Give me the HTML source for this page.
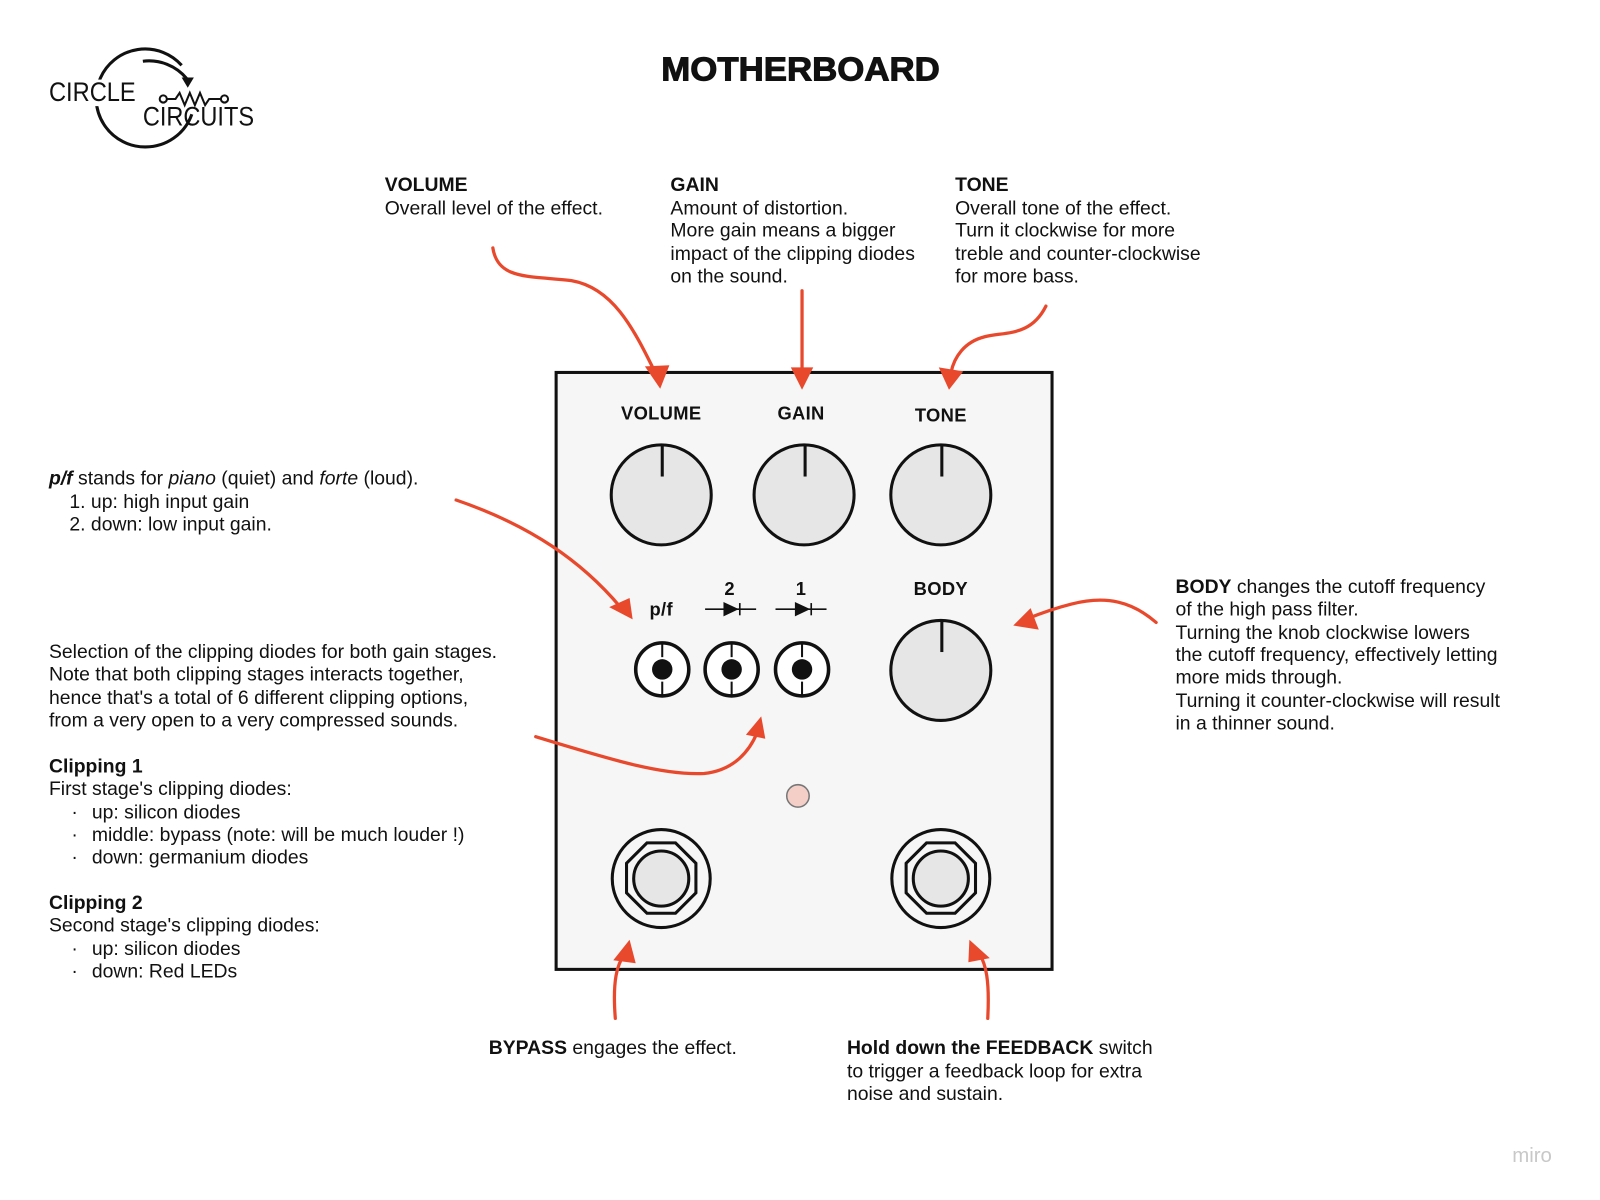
<!DOCTYPE html>
<html><head><meta charset="utf-8"><style>
html,body{margin:0;padding:0;background:#fff;}
svg{display:block;}
text{font-family:"Liberation Sans",Arial,sans-serif;font-size:19px;fill:#111;}
.b{font-weight:bold;}
.lab{font-weight:bold;font-size:18px;text-anchor:middle;letter-spacing:0.3px;}
.ar{fill:none;stroke:#e8492c;stroke-width:3.2;stroke-linecap:round;}
.ah{fill:#e8492c;}
</style></head><body>
<svg width="1600" height="1200" viewBox="0 0 1568 1176" xmlns="http://www.w3.org/2000/svg">
<rect width="1568" height="1176" fill="#fff"/>
<!-- logo -->
<path d="M178 64 A48 48 0 1 0 142 144 A48 48 0 0 0 188 112" fill="none" stroke="#111" stroke-width="3"/>
<path d="M140 60 A48 48 0 0 1 183 77" fill="none" stroke="#111" stroke-width="3"/>
<polygon points="178,76 190,76 184,86" fill="#111"/>
<rect x="46" y="78" width="90" height="26" fill="#fff"/>
<circle cx="160" cy="97" r="3.5" fill="#fff" stroke="#111" stroke-width="2"/>
<circle cx="220" cy="97" r="3.5" fill="#fff" stroke="#111" stroke-width="2"/>
<polyline points="164,97 172,97 176,91 181,103 186,91 191,103 196,91 201,103 205,97 216,97" fill="none" stroke="#111" stroke-width="2"/>
<text x="48" y="99" textLength="85" lengthAdjust="spacingAndGlyphs" style="font-size:26px">CIRCLE</text>
<text x="140" y="123" textLength="109" lengthAdjust="spacingAndGlyphs" style="font-size:26px">CIRCUITS</text>
<text x="648" y="79" class="b" textLength="273" lengthAdjust="spacingAndGlyphs" style="font-size:33px;font-weight:900;stroke:#111;stroke-width:1">MOTHERBOARD</text>

<!-- top texts -->
<text x="377" y="187" class="b">VOLUME</text>
<text x="377" y="210">Overall level of the effect.</text>
<text x="657" y="187" class="b">GAIN</text>
<text x="657" y="210">Amount of distortion.</text>
<text x="657" y="232">More gain means a bigger</text>
<text x="657" y="255">impact of the clipping diodes</text>
<text x="657" y="277">on the sound.</text>
<text x="936" y="187" class="b">TONE</text>
<text x="936" y="210">Overall tone of the effect.</text>
<text x="936" y="232">Turn it clockwise for more</text>
<text x="936" y="255">treble and counter-clockwise</text>
<text x="936" y="277">for more bass.</text>

<!-- left texts -->
<text x="48" y="475"><tspan class="b" font-style="italic">p/f</tspan> stands for <tspan font-style="italic">piano</tspan> (quiet) and <tspan font-style="italic">forte</tspan> (loud).</text>
<text x="68" y="498">1. up: high input gain</text>
<text x="68" y="520">2. down: low input gain.</text>
<text x="48" y="645">Selection of the clipping diodes for both gain stages.</text>
<text x="48" y="667">Note that both clipping stages interacts together,</text>
<text x="48" y="690">hence that's a total of 6 different clipping options,</text>
<text x="48" y="712">from a very open to a very compressed sounds.</text>
<text x="48" y="757" class="b">Clipping 1</text>
<text x="48" y="779">First stage's clipping diodes:</text>
<text x="70" y="802">·</text><text x="90" y="802">up: silicon diodes</text>
<text x="70" y="824">·</text><text x="90" y="824">middle: bypass (note: will be much louder !)</text>
<text x="70" y="846">·</text><text x="90" y="846">down: germanium diodes</text>
<text x="48" y="891" class="b">Clipping 2</text>
<text x="48" y="913">Second stage's clipping diodes:</text>
<text x="70" y="936">·</text><text x="90" y="936">up: silicon diodes</text>
<text x="70" y="958">·</text><text x="90" y="958">down: Red LEDs</text>

<!-- right text -->
<text x="1152" y="581"><tspan class="b">BODY</tspan> changes the cutoff frequency</text>
<text x="1152" y="603">of the high pass filter.</text>
<text x="1152" y="626">Turning the knob clockwise lowers</text>
<text x="1152" y="648">the cutoff frequency, effectively letting</text>
<text x="1152" y="670">more mids through.</text>
<text x="1152" y="693">Turning it counter-clockwise will result</text>
<text x="1152" y="715">in a thinner sound.</text>

<!-- bottom -->
<text x="479" y="1033"><tspan class="b">BYPASS</tspan> engages the effect.</text>
<text x="830" y="1033"><tspan class="b">Hold down the FEEDBACK</tspan> switch</text>
<text x="830" y="1056">to trigger a feedback loop for extra</text>
<text x="830" y="1078">noise and sustain.</text>
<text x="1482" y="1139" style="fill:#c8c8c8;font-size:20px">miro</text>

<!-- box -->
<rect x="545" y="365" width="486" height="585" fill="#f6f6f6" stroke="#111" stroke-width="3"/>
<text x="648" y="411" class="lab">VOLUME</text>
<text x="785" y="411" class="lab">GAIN</text>
<text x="922" y="413" class="lab">TONE</text>
<text x="922" y="583" class="lab">BODY</text>
<g fill="#e6e6e6" stroke="#111" stroke-width="3">
<circle cx="648" cy="485" r="49"/><circle cx="788" cy="485" r="49"/><circle cx="922" cy="485" r="49"/><circle cx="922" cy="657" r="49"/>
</g>
<g stroke="#111" stroke-width="3">
<line x1="649" y1="436" x2="649" y2="467"/><line x1="789" y1="436" x2="789" y2="467"/><line x1="923" y1="436" x2="923" y2="467"/><line x1="923" y1="608" x2="923" y2="639"/>
</g>
<text x="648" y="603" class="lab">p/f</text>
<text x="715" y="583" class="lab">2</text>
<text x="785" y="583" class="lab">1</text>
<g stroke="#111" stroke-width="1.6">
<line x1="691" y1="597" x2="741" y2="597"/><line x1="725" y1="591" x2="725" y2="603"/>
<line x1="760" y1="597" x2="810" y2="597"/><line x1="795" y1="591" x2="795" y2="603"/>
</g>
<polygon points="709,590 709,604 724,597" fill="#111"/>
<polygon points="779,590 779,604 794,597" fill="#111"/>
<g>
<circle cx="649" cy="656" r="26" fill="#fff" stroke="#111" stroke-width="3.5"/>
<circle cx="717" cy="656" r="26" fill="#fff" stroke="#111" stroke-width="3.5"/>
<circle cx="786" cy="656" r="26" fill="#fff" stroke="#111" stroke-width="3.5"/>
<circle cx="649" cy="656" r="10" fill="#111"/><circle cx="717" cy="656" r="10" fill="#111"/><circle cx="786" cy="656" r="10" fill="#111"/>
<g stroke="#111" stroke-width="2">
<line x1="649" y1="630" x2="649" y2="644"/><line x1="649" y1="668" x2="649" y2="682"/>
<line x1="717" y1="630" x2="717" y2="644"/><line x1="717" y1="668" x2="717" y2="682"/>
<line x1="786" y1="630" x2="786" y2="644"/><line x1="786" y1="668" x2="786" y2="682"/>
</g>
</g>
<circle cx="782" cy="780" r="11" fill="#f3cfc8" stroke="#777" stroke-width="1.5"/>
<g fill="none" stroke="#111" stroke-width="3">
<circle cx="648" cy="861" r="48"/>
<polygon points="634,826 662,826 682,846 682,875 662,895 634,895 614,875 614,846"/>
<circle cx="922" cy="861" r="48"/>
<polygon points="908,826 936,826 956,846 956,875 936,895 908,895 888,875 888,846"/>
</g>
<circle cx="648" cy="861" r="27" fill="#e6e6e6" stroke="#111" stroke-width="3"/>
<circle cx="922" cy="861" r="27" fill="#e6e6e6" stroke="#111" stroke-width="3"/>

<!-- arrows -->
<path class="ar" d="M483 243 C488 275 520 270 560 275 C600 282 620 320 642 365"/>
<polygon class="ah" points="632,359 656,358 647,381"/>
<path class="ar" d="M786 285 L786 365"/>
<polygon class="ah" points="775,360 797,360 786,382"/>
<path class="ar" d="M1025 300 C1010 330 985 325 965 330 C945 335 935 350 932 365"/>
<polygon class="ah" points="920,360 944,364 930,382"/>
<path class="ar" d="M447 490 C520 515 570 550 608 595"/>
<polygon class="ah" points="597,595 617,586 620,607"/>
<path class="ar" d="M525 722 C600 745 650 760 690 758 C720 755 735 735 742 718"/>
<polygon class="ah" points="731,720 750,724 746,702"/>
<path class="ar" d="M1133 610 C1110 590 1085 583 1050 592 C1030 597 1015 603 1005 607"/>
<polygon class="ah" points="1010,596 1018,617 993,613"/>
<path class="ar" d="M603 998 C600 960 605 945 612 935"/>
<polygon class="ah" points="601,941 623,944 617,921"/>
<path class="ar" d="M968 998 C970 960 966 945 960 935"/>
<polygon class="ah" points="949,943 970,939 950,921"/>
</svg>
</body></html>
